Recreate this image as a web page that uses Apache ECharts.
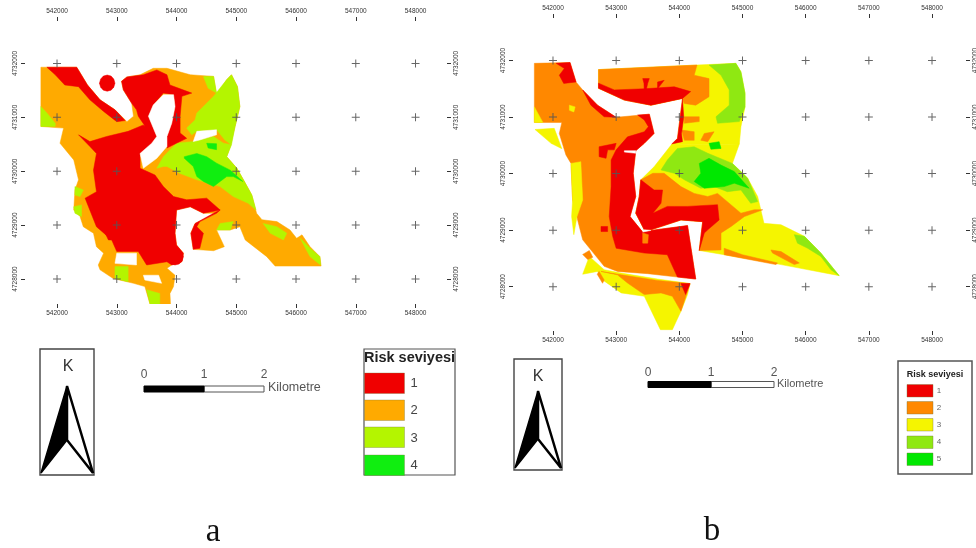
<!DOCTYPE html>
<html>
<head>
<meta charset="utf-8">
<title>Risk seviyesi</title>
<script src="https://cdn.jsdelivr.net/npm/echarts@6/dist/echarts.min.js"></script>
<style>
  html, body { margin: 0; background: #fff; }
  /* the source figure is a soft scan */
  #chart { width: 976px; height: 548px; filter: blur(0.45px); }
</style>
</head>
<body>
<div id="chart"></div>
<script>
// sheet ticks, metres
const eastTicks = [542000, 543000, 544000, 545000, 546000, 547000, 548000];
const northTicks = [4728000, 4729000, 4730000, 4731000, 4732000];
// polygons below are km east of 542000 / km north of 4728000
const originE = 542000, originN = 4728000;

const aLevel2 = [
  [[-.27,3.93],[.33,3.93],[.51,3.6],[.72,3.325],[.97,3.14],[1.17,2.92],[1.28,3.02],[1.25,3.26],[1.11,3.51],[1.08,3.67],[1.17,3.75],[1.39,3.79],[1.61,3.91],[1.84,3.91],[2.23,3.79],[2.62,3.76],[2.67,3.42],[2.84,3.7],[2.92,3.79],[3.02,3.57],[3.06,3.2],[2.98,2.83],[2.9,2.46],[2.84,2.27],[3.01,2.055],[3.12,1.84],[3.26,1.56],[3.34,1.22],[3.43,1.1],[3.68,1.065],[3.9,.91],[4.01,.755],[4.1,.82],[4.235,.6],[4.4,.415],[4.42,.24],[3.65,.24],[3.51,.415],[3.15,.725],[3.06,.97],[2.9,.91],[2.67,.91],[2.8,.6],[2.62,.525],[2.28,.55],[2.24,.85],[2.31,1.03],[2.67,1.22],[2.45,1.22],[2.23,1.34],[2,1.28],[1.975,.85],[2,.63],[2.115,.48],[2.09,.32],[1.92,.26],[1.84,.2],[1.975,.07],[1.95,-.14],[1.89,-.27],[1.9,-.48],[1.56,-.48],[1.47,-.14],[1.28,-.08],[.94,.01],[.72,.17],[.69,.26],[.78,.48],[.66,.6],[.61,.85],[.44,.97],[.385,1.16],[.28,1.28],[.3,1.65],[.36,1.84],[.28,2.21],[.05,2.52],[.11,2.8],[-.27,2.83]]
];
const aLevel3 = [
  [[-.27,3.2],[-.17,3.08],[-.03,2.89],[-.03,2.83],[-.27,2.83]],
  [[2.34,3.08],[2.62,3.39],[2.84,3.7],[2.92,3.79],[3.02,3.57],[3.06,3.2],[2.98,2.83],[2.92,2.49],[2.81,2.58],[2.67,2.77],[2.34,2.74],[2.255,2.675],[2.17,2.8],[2.31,2.95]],
  [[2.45,3.76],[2.62,3.76],[2.67,3.45],[2.53,3.54]],
  [[1.78,2.27],[2,2.52],[2.28,2.55],[2.62,2.645],[2.785,2.52],[2.92,2.49],[2.84,2.27],[3.01,2.055],[3.12,1.84],[3.26,1.56],[3.33,1.28],[3.2,1.405],[2.95,1.53],[2.73,1.715],[2.34,1.84],[2.06,1.96],[1.84,2.09],[1.78,2.09],[1.67,2.055]],
  [[2.73,1.03],[2.95,1.065],[2.9,.91],[2.67,.91]],
  [[3.45,1.03],[3.68,.97],[3.845,.85],[3.79,.725],[3.57,.85]],
  [[4.07,.755],[4.235,.57],[4.4,.415],[4.41,.26],[4.235,.415]],
  [[.97,.23],[1.19,.23],[1.19,-.05],[.97,.01]],
  [[1.5,-.2],[1.72,-.27],[1.72,-.48],[1.56,-.48]],
  [[.28,1.34],[.41,1.375],[.41,1.16],[.3,1.22]],
  [[.3,1.715],[.44,1.65],[.385,1.53],[.3,1.56]]
];
const aLevel4 = [
  [[2.13,2.27],[2.34,2.33],[2.505,2.27],[2.67,2.15],[2.9,2.02],[3.11,1.81],[2.95,1.9],[2.84,1.9],[2.73,1.81],[2.62,1.715],[2.45,1.81],[2.34,1.9],[2.28,2.09],[2.13,2.24]],
  [[2.505,2.52],[2.67,2.51],[2.67,2.4],[2.53,2.43]]
];
const aLevel1 = [
  [[-.17,3.93],[.33,3.93],[.51,3.6],[.72,3.325],[.97,3.14],[1.14,2.94],[1,2.92],[.78,3.11],[.55,3.325],[.36,3.57],[.13,3.6],[-.03,3.79]],
  [[.36,2.675],[.55,2.55],[.83,2.645],[1.19,2.74],[1.445,2.86],[1.53,2.71],[1.6,2.52],[1.39,2.33],[1.39,2.055],[1.64,1.93],[1.78,1.715],[1.95,1.53],[2.17,1.47],[2.505,1.5],[2.73,1.28],[2.45,1.22],[2.23,1.34],[2,1.28],[1.975,.85],[2,.63],[2.115,.48],[2.09,.32],[1.92,.26],[1.84,.32],[1.5,.26],[1.36,.51],[1,.51],[.915,.725],[.66,.97],[.47,1.5],[.66,1.62],[.61,2.02],[.66,2.33],[.55,2.46]],
  [[1.08,3.67],[1.17,3.75],[1.445,3.79],[1.67,3.88],[1.84,3.79],[1.89,3.6],[2.255,3.45],[2.09,3.39],[2.06,3.02],[2.06,2.71],[2.17,2.61],[2,2.52],[1.84,2.43],[1.84,2.645],[1.92,2.89],[1.975,3.2],[1.95,3.42],[1.78,3.45],[1.61,3.23],[1.53,3.02],[1.67,2.645],[1.585,2.52],[1.445,2.645],[1.46,2.86],[1.36,3.02],[1.33,3.14],[1.25,3.26],[1.11,3.51]],
  [[2.73,1.28],[2.67,1.22],[2.39,1.065],[2.34,.97],[2.45,.85],[2.39,.57],[2.28,.55],[2.24,.85],[2.31,1.03],[2.62,1.22]],
  [[.97,3.635],[.95,3.71],[.905,3.765],[.84,3.785],[.775,3.765],[.73,3.71],[.71,3.635],[.73,3.56],[.775,3.505],[.84,3.485],[.905,3.505],[.95,3.56]],
  [[2.115,.415],[2.095,.49],[2.045,.55],[1.975,.57],[1.905,.55],[1.855,.49],[1.835,.415],[1.855,.34],[1.905,.28],[1.975,.26],[2.045,.28],[2.095,.34]],
  [[.8,.97],[.915,.725],[.86,.725],[.78,.91]]
];
const aHoles = [
  [[1.78,3.42],[1.95,3.42],[1.975,3.2],[1.92,2.89],[1.84,2.645],[1.84,2.46],[1.67,2.24],[1.445,2.055],[1.39,2.33],[1.585,2.52],[1.67,2.645],[1.53,3.02],[1.61,3.23]],
  [[2.34,2.74],[2.67,2.77],[2.67,2.675],[2.39,2.58],[2.28,2.55]],
  [[1,.48],[1.33,.48],[1.33,.26],[.97,.29]],
  [[1.445,.07],[1.7,.07],[1.75,-.08],[1.47,-.02]]
];

const bLevel2 = [
  [[-.295,3.95],[.27,3.965],[.365,3.62],[.47,3.48],[.705,3.21],[1,2.995],[1.525,3.05],[1.6,2.71],[1.445,2.535],[1.31,2.405],[1.27,2.005],[1.31,1.595],[1.22,1.24],[1.42,.965],[1.55,.995],[2.13,1.08],[2.26,.135],[1.97,.17],[1.5,.23],[1.02,.27],[.81,.36],[.47,.83],[.39,1.18],[.31,1.535],[.285,2.18],[.205,2.33],[.1,2.71],[.14,2.905],[-.295,2.905]]
];
const bLevel3 = [
  [[.72,3.84],[2.28,3.92],[2.895,3.95],[2.975,3.8],[3.04,3.42],[3.04,3.18],[2.975,2.83],[2.95,2.525],[1.87,2.505],[1.97,2.62],[2.05,3.33],[1.55,3.21],[1.13,3.3],[.72,3.51]],
  [[1.87,2.505],[2.95,2.525],[2.84,2.18],[3.08,1.92],[3.24,1.595],[3.34,1.12],[3.61,1.095],[3.98,.89],[4.24,.595],[4.53,.195],[3.61,.39],[2.71,.565],[2.315,.64],[2.37,1.15],[2.025,1.18],[1.55,1.005],[1.445,1.005],[1.31,1.3],[1.365,1.595],[1.39,1.89],[1.6,2.12]],
  [[.47,.22],[.575,.535],[.81,.3],[1.08,.24],[1.655,.135],[2.17,.055],[2.13,-.14],[2.025,-.435],[1.89,-.76],[1.7,-.76],[1.445,-.17],[1.08,-.11],[.785,.12],[.705,.27]],
  [[-.285,2.78],[.02,2.8],[.14,2.44],[-.03,2.535]],
  [[.285,2.18],[.44,2.21],[.47,1.535],[.38,1.24],[.33,.92],[.295,1.24],[.31,1.535]],
  [[-.295,3.18],[-.16,2.905],[-.295,2.905]],
  [[.26,3.21],[.35,3.18],[.33,3.09],[.26,3.12]]
];
const bLevel4 = [
  [[2.47,3.92],[2.895,3.95],[2.975,3.8],[3.04,3.42],[3.04,3.18],[2.95,2.92],[2.605,2.89],[2.58,3.005],[2.79,3.21],[2.79,3.48],[2.66,3.74]],
  [[1.81,2.24],[1.97,2.445],[2.235,2.475],[2.45,2.36],[2.84,2.18],[3.08,1.92],[3.24,1.505],[3.13,1.475],[2.975,1.71],[2.76,1.68],[2.55,1.77],[2.34,1.74],[2.08,1.89],[1.92,2.005],[1.71,2.065]],
  [[3.82,.92],[3.98,.89],[4.24,.595],[4.53,.195],[4.4,.3],[4.24,.535],[4.03,.68],[3.87,.77]]
];
const bLevel5 = [
  [[2.315,2.18],[2.47,2.27],[2.66,2.15],[2.87,2.035],[3.105,1.74],[2.87,1.83],[2.71,1.77],[2.395,1.74],[2.235,1.86],[2.34,2.005]],
  [[2.47,2.535],[2.63,2.565],[2.66,2.445],[2.5,2.43]]
];
const bOrange = [
  [[.72,3.84],[2.28,3.92],[2.235,3.74],[2.47,3.68],[2.47,3.36],[2.26,3.21],[2.08,3.24],[2.05,3.33],[1.55,3.21],[1.13,3.3],[.72,3.51]],
  [[2.08,3.005],[2.315,3.005],[2.315,2.92],[2.08,2.89]],
  [[2.035,2.77],[2.235,2.74],[2.235,2.59],[2.08,2.59]],
  [[2.395,2.71],[2.55,2.74],[2.45,2.565],[2.34,2.59]],
  [[1.58,2.005],[1.76,2.005],[2.025,1.77],[2.235,1.65],[2.45,1.595],[2.605,1.65],[2.975,1.3],[3.185,1.36],[3.32,1.36],[3.03,1.24],[2.82,1.065],[2.66,.95],[2.66,.65],[2.315,.64],[2.37,1.15],[2.025,1.18],[1.55,1.005],[1.445,1.005],[1.31,1.3],[1.365,1.595],[1.39,1.89]],
  [[3.45,.65],[3.61,.62],[3.9,.42],[3.82,.39],[3.475,.595]],
  [[2.71,.68],[3.0,.565],[3.555,.42],[3.53,.39],[2.71,.565]],
  [[.76,.27],[1.08,.21],[1.655,.11],[2.17,.055],[2.025,-.435],[1.89,-.17],[1.71,-.11],[1.445,-.14],[1.18,.065],[1.02,.21]],
  [[.47,.57],[.575,.64],[.63,.52],[.55,.48]],
  [[.73,.27],[.81,.12],[.785,.06],[.7,.22]]
];
const bRed = [
  [[.05,3.95],[.27,3.965],[.365,3.62],[.17,3.595],[.1,3.74],[.18,3.86]],
  [[.47,3.48],[.705,3.21],[1,2.995],[.81,3.005],[.6,3.21]],
  [[1.34,3.035],[1.525,3.05],[1.6,2.71],[1.445,2.535],[1.31,2.405],[1.27,2.005],[1.31,1.595],[1.22,1.24],[1.42,.965],[1.55,.995],[2.13,1.08],[2.26,.135],[1.97,.17],[1.81,.565],[1.445,.595],[1,.68],[.945,.89],[.89,1.24],[.92,1.77],[.92,2.24],[1,2.42],[1.18,2.65],[1.445,2.74],[1.51,2.83],[1.445,2.95]],
  [[.73,2.475],[1,2.535],[.97,2.42],[.865,2.42],[.84,2.27],[.73,2.3]],
  [[.76,1.065],[.865,1.065],[.865,.975],[.76,.975]],
  [[.72,3.6],[.97,3.48],[1.445,3.5],[1.92,3.535],[2.18,3.45],[2.05,3.33],[1.55,3.21],[1.13,3.3],[.72,3.51]],
  [[1.42,3.68],[1.525,3.68],[1.5,3.6],[1.47,3.45],[1.445,3.45],[1.44,3.6]],
  [[1.655,3.62],[1.76,3.65],[1.655,3.5]],
  [[2.05,3.33],[2.07,2.995],[2.035,2.71],[2.05,2.565],[1.88,2.525],[1.97,2.62]],
  [[1.39,1.89],[1.6,1.71],[1.735,1.71],[1.71,1.475],[1.58,1.3],[1.81,1.42],[1.92,1.42],[2.13,1.42],[2.605,1.45],[2.63,1.18],[2.45,1.005],[2.395,.95],[2.315,.64],[2.37,1.15],[2.025,1.18],[1.55,1.005],[1.445,1.005],[1.31,1.3],[1.365,1.595]],
  [[2.025,.055],[2.17,.055],[2.1,-.14]]
];
const bSpots = [
  [[1.42,.95],[1.51,.92],[1.5,.77],[1.42,.77]]
];
const bHoles = [
  [[1.13,2.405],[1.31,2.405],[1.31,2.36],[1.13,2.38]],
  [[1.445,1.005],[1.55,.995],[1.42,.965]]
];

// colours per map, low risk number = red
const colorsA = { l1: '#f00000', l2: '#ffaa00', l3: '#b4f500', l4: '#10ee10' };
const colorsB = { l1: '#f00000', l2: '#ff8800', l3: '#f5f500', l4: '#8fe812', l5: '#00e800' };
const legendLabelsA = ['1', '2', '3', '4'];
const legendLabelsB = ['1', '2', '3', '4', '5'];

const toMap = rings => rings.map(r => r.map(p => [originE + p[0] * 1000, originN + p[1] * 1000]));

function areaSeries(rings, color, axisOffset) {
  const mapped = toMap(rings);
  return {
    type: 'custom',
    xAxisIndex: axisOffset,
    yAxisIndex: axisOffset,
    silent: true,
    clip: true,
    data: mapped.map(r => r[0]),
    renderItem(params, api) {
      return {
        type: 'polygon',
        shape: { points: mapped[params.dataIndex].map(p => api.coord(p)) },
        style: { fill: color, stroke: color, lineWidth: 0.5 }
      };
    }
  };
}

const crosses = [];
eastTicks.forEach(e => northTicks.forEach(n => crosses.push([e, n])));
const crossSeries = axisOffset => ({
  type: 'scatter',
  xAxisIndex: axisOffset,
  yAxisIndex: axisOffset,
  silent: true,
  data: crosses,
  symbol: 'path://M3.5 0h1v8h-1zM0 3.5h8v1h-8z',
  symbolSize: 8,
  itemStyle: { color: '#555', opacity: 0.9 }
});

const tickText = { fontFamily: 'Liberation Sans', fontSize: 6.5, color: '#333', margin: 6 };
function xAxis(gridIndex, position, min, max) {
  return {
    type: 'value', gridIndex, position, min, max,
    axisLine: { show: false },
    splitLine: { show: false },
    axisTick: { length: 4, customValues: eastTicks, lineStyle: { color: '#333', width: 1 } },
    axisLabel: { ...tickText, customValues: eastTicks, formatter: v => String(v) }
  };
}
function yAxis(gridIndex, position, min, max) {
  return {
    type: 'value', gridIndex, position, min, max,
    axisLine: { show: false },
    splitLine: { show: false },
    axisTick: { length: 4, customValues: northTicks, lineStyle: { color: '#333', width: 1 } },
    axisLabel: { ...tickText, rotate: 90, customValues: northTicks, formatter: v => String(v) }
  };
}

function txt(x, y, text, font, fill, align) {
  return { type: 'text', silent: true, style: { x, y, text, font, fill: fill || '#333', align: align || 'center', verticalAlign: 'middle' } };
}
function box(x, y, w, h, fill, stroke, lineWidth) {
  return { type: 'rect', silent: true, shape: { x, y, width: w, height: h }, style: { fill, stroke, lineWidth } };
}
function poly(points, fill, stroke, lineWidth) {
  return { type: 'polygon', silent: true, shape: { points }, style: { fill, stroke, lineWidth, lineJoin: 'bevel' } };
}

function northArrow(x, y, w, h, kx, ky, tip, left, right, notch, fontSize) {
  return [
    box(x, y, w, h, '#fff', '#444', 1.4),
    txt(kx, ky, 'K', fontSize + 'px "Liberation Sans"', '#333'),
    poly([tip, right, notch], '#fff', '#000', 2.5),
    poly([tip, notch, left], '#000', '#000', 1.5)
  ];
}
function scaleBar(x0, x1, x2, y, h, labelY, kmX, kmY, kmFont) {
  return [
    box(x1, y, x2 - x1, h, '#fff', '#555', 1),
    box(x0, y, x1 - x0, h, '#000', '#000', 1),
    txt(x0, labelY, '0', '12px "Liberation Sans"', '#555'),
    txt(x1, labelY, '1', '12px "Liberation Sans"', '#555'),
    txt(x2, labelY, '2', '12px "Liberation Sans"', '#555'),
    txt(kmX, kmY, 'Kilometre', kmFont + 'px "Liberation Sans"', '#555', 'left')
  ];
}

const graphics = [
  ...northArrow(40, 349, 54, 126, 68, 367, [67, 386], [41, 473], [93, 473], [67, 440], 16),
  ...scaleBar(144, 204, 264, 386, 6, 375, 268, 388, 12.5),
  box(364, 349, 91, 126, '#fff', '#555', 1.2),
  txt(409.5, 358, 'Risk seviyesi', 'bold 14.5px "Liberation Sans"', '#222'),
  ...[colorsA.l1, colorsA.l2, colorsA.l3, colorsA.l4].flatMap((c, i) => [
    box(364.5, [373, 400, 427, 455][i], 40, 20.5, c, 'rgba(120,120,60,0.35)', 1),
    txt(414, [383, 410, 438, 465][i], legendLabelsA[i], '13px "Liberation Sans"', '#444')
  ]),
  txt(213, 532, 'a', '33px "Liberation Serif"', '#111'),

  ...northArrow(514, 359, 48, 111, 538, 377, [538, 391], [515, 468], [561, 468], [538, 439], 16),
  ...scaleBar(648, 711, 774, 381.5, 6, 373, 777, 384, 11),
  box(898, 361, 74, 113, '#fff', '#555', 1.5),
  txt(935, 375, 'Risk seviyesi', 'bold 9px "Liberation Sans"', '#222'),
  ...[colorsB.l1, colorsB.l2, colorsB.l3, colorsB.l4, colorsB.l5].flatMap((c, i) => [
    box(907, [384.5, 401.5, 418.5, 436, 453][i], 26, 12.5, c, 'rgba(120,120,60,0.4)', 1),
    txt(939, [391, 408, 425, 442, 459][i], legendLabelsB[i], '8px "Liberation Sans"', '#666')
  ]),
  txt(712, 531, 'b', '33px "Liberation Serif"', '#111')
];

const chart = echarts.init(document.getElementById('chart'));
const option = {
  animation: false,
  backgroundColor: '#fff',
  tooltip: { show: false },
  grid: [
    // right hand labels of map b run off the page in the source too
    { left: 25, top: 21, width: 422, height: 283, outerBoundsMode: 'none' },
    { left: 513, top: 18, width: 453, height: 313, outerBoundsMode: 'none' }
  ],
  xAxis: [
    xAxis(0, 'bottom', 541464, 548527),
    xAxis(0, 'top', 541464, 548527),
    xAxis(1, 'bottom', 541367, 548538),
    xAxis(1, 'top', 541367, 548538)
  ],
  yAxis: [
    yAxis(0, 'left', 4727536, 4732788),
    yAxis(0, 'right', 4727536, 4732788),
    yAxis(1, 'left', 4727216, 4732752),
    yAxis(1, 'right', 4727216, 4732752)
  ],
  series: [
    areaSeries(aLevel2, colorsA.l2, 0),
    areaSeries(aLevel3, colorsA.l3, 0),
    areaSeries(aLevel4, colorsA.l4, 0),
    areaSeries(aLevel1, colorsA.l1, 0),
    areaSeries(aHoles, '#fff', 0),
    crossSeries(0),
    areaSeries(bLevel2, colorsB.l2, 2),
    areaSeries(bLevel3, colorsB.l3, 2),
    areaSeries(bLevel4, colorsB.l4, 2),
    areaSeries(bLevel5, colorsB.l5, 2),
    areaSeries(bOrange, colorsB.l2, 2),
    areaSeries(bRed, colorsB.l1, 2),
    areaSeries(bSpots, colorsB.l2, 2),
    areaSeries(bHoles, '#fff', 2),
    crossSeries(2)
  ],
  graphic: { elements: graphics }
};
chart.setOption(option);
</script>
</body>
</html>
